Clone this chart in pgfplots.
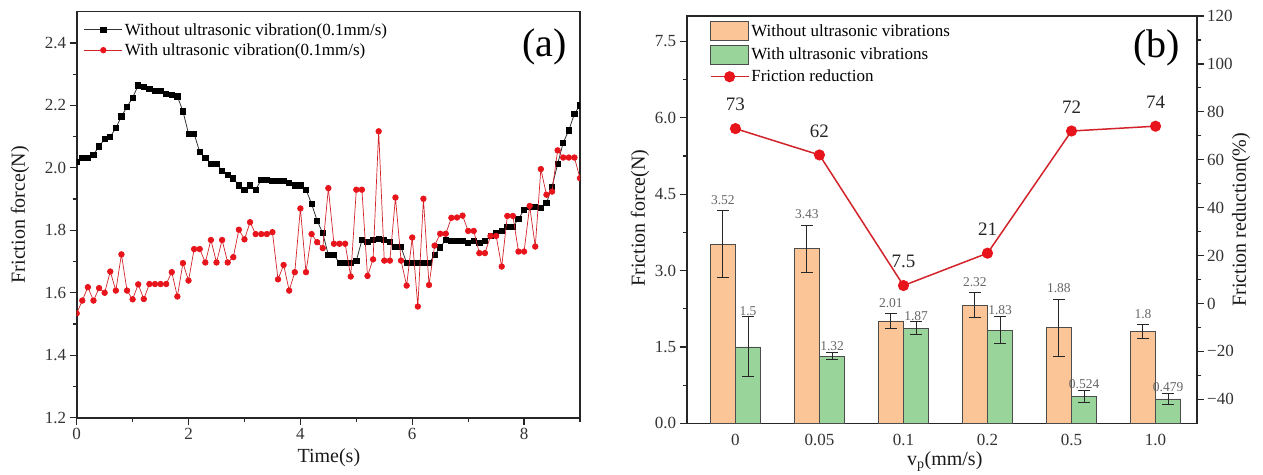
\documentclass[border=0pt]{standalone}
\usepackage{pgfplots}
\pgfplotsset{compat=1.18}
\usepackage{pgfplotstable}
\usepackage{fontspec}
\setmainfont{Liberation Serif}

\definecolor{barorange}{HTML}{FBC597}
\definecolor{bargreen}{HTML}{99D49B}
\definecolor{redline}{HTML}{D2232A}
\definecolor{redmark}{HTML}{E8141C}

% friction force over time at 0.1 mm/s
\pgfplotstableread{
t without with
0.0 2.020 1.534
0.1 2.031 1.575
0.2 2.031 1.618
0.3 2.042 1.575
0.4 2.069 1.615
0.5 2.092 1.600
0.6 2.100 1.668
0.7 2.127 1.607
0.8 2.165 1.723
0.9 2.195 1.607
1.0 2.225 1.579
1.1 2.264 1.627
1.2 2.258 1.580
1.3 2.252 1.628
1.4 2.247 1.628
1.5 2.247 1.628
1.6 2.236 1.628
1.7 2.234 1.666
1.8 2.229 1.588
1.9 2.181 1.695
2.0 2.109 1.639
2.1 2.109 1.740
2.2 2.051 1.740
2.3 2.032 1.697
2.4 2.013 1.769
2.5 2.013 1.697
2.6 1.991 1.769
2.7 1.978 1.697
2.8 1.966 1.714
2.9 1.944 1.802
3.0 1.930 1.771
3.1 1.944 1.826
3.2 1.930 1.788
3.3 1.962 1.788
3.4 1.962 1.788
3.5 1.959 1.794
3.6 1.959 1.643
3.7 1.959 1.689
3.8 1.951 1.607
3.9 1.944 1.666
4.0 1.944 1.870
4.1 1.930 1.666
4.2 1.885 1.788
4.3 1.831 1.762
4.4 1.791 1.743
4.5 1.721 1.935
4.6 1.721 1.757
4.7 1.695 1.757
4.8 1.695 1.757
4.9 1.695 1.652
5.0 1.702 1.930
5.1 1.769 1.930
5.2 1.764 1.654
5.3 1.769 1.707
5.4 1.772 2.117
5.5 1.769 1.703
5.6 1.764 1.703
5.7 1.748 1.905
5.8 1.746 1.703
5.9 1.695 1.623
6.0 1.695 1.777
6.1 1.695 1.556
6.2 1.695 1.901
6.3 1.695 1.625
6.4 1.721 1.751
6.5 1.745 1.789
6.6 1.770 1.789
6.7 1.767 1.840
6.8 1.767 1.841
6.9 1.767 1.847
7.0 1.759 1.798
7.1 1.767 1.798
7.2 1.759 1.727
7.3 1.767 1.727
7.4 1.782 1.782
7.5 1.791 1.782
7.6 1.799 1.684
7.7 1.812 1.846
7.8 1.812 1.846
7.9 1.836 1.732
8.0 1.866 1.732
8.1 1.876 1.878
8.2 1.876 1.748
8.3 1.871 1.996
8.4 1.887 1.914
8.5 1.940 1.924
8.6 2.012 2.056
8.7 2.081 2.033
8.8 2.120 2.033
8.9 2.173 2.033
9.0 2.200 1.967
}\forcetable

% mean friction force, error, and reduction per feed speed
\pgfplotstableread{
x wo woe w we red
0 3.52 0.65 1.5 0.59 73
1 3.43 0.46 1.32 0.075 62
2 2.01 0.14 1.87 0.12 7.5
3 2.32 0.25 1.83 0.27 21
4 1.88 0.56 0.524 0.115 72
5 1.8 0.14 0.479 0.10 74
}\speedtable

\pgfplotsset{
  panel/.style={
    scale only axis,
    anchor=south west,
    axis line style={line width=1.6pt, black!85},
    tick align=outside,
    major tick length=7pt,
    minor tick length=4pt,
    tick style={line width=1.2pt, black!85},
    tick label style={font=\fontsize{17}{20}\selectfont, black!80},
    label style={font=\fontsize{20}{24}\selectfont, black!90},
    /pgf/number format/assume math mode=true,
  },
  lineimg/.style={legend image code/.code={%
    \draw[mark repeat=2,mark phase=2,##1] plot coordinates {(0pt,0pt)(19pt,0pt)(38pt,0pt)};}},
  errbar/.style={error bars/.cd, y dir=both, y explicit,
    error bar style={line width=1pt, black!85},
    error mark options={rotate=90, mark size=6pt, line width=1pt, black!85}},
}

\begin{document}
\begin{tikzpicture}

% (a) friction force versus time
\begin{axis}[panel,
  at={(76.7pt,56.3pt)}, width=503.3pt, height=406pt,
  xmin=0, xmax=9, ymin=1.2, ymax=2.5,
  xtick={0,2,4,6,8}, minor xtick={1,3,5,7,9},
  ytick={1.2,1.4,1.6,1.8,2.0,2.2,2.4},
  minor ytick={1.3,1.5,1.7,1.9,2.1,2.3},
  xtick pos=bottom, ytick pos=left,
  yticklabel style={/pgf/number format/.cd, fixed, fixed zerofill, precision=1},
  xlabel={Time(s)}, ylabel={Friction force(N)},
  xlabel style={at={(axis description cs:0.501,-0.099)}, anchor=center},
  ylabel style={at={(axis description cs:-0.1127,0.5)}, anchor=center},
  clip marker paths=true,
  legend style={at={(axis description cs:0.014,0.977)}, anchor=north west,
    draw=none, fill=none, inner sep=0pt, row sep=3pt,
    font=\fontsize{17}{20}\selectfont, nodes={inner sep=2pt},
    cells={anchor=west}},
]
\addplot[black!80, line width=0.8pt, mark=square*, mark size=2.6pt,
  mark options={black, fill=black}, lineimg]
  table[x=t, y=without]{\forcetable};
\addlegendentry{Without ultrasonic vibration(0.1mm/s)}
\addplot[redline, line width=0.7pt, mark=*, mark size=2.8pt,
  mark options={redmark, fill=redmark}, lineimg]
  table[x=t, y=with]{\forcetable};
\addlegendentry{With ultrasonic vibration(0.1mm/s)}
\node[font=\fontsize{40}{44}\selectfont] at (axis description cs:0.930,0.913) {(a)};
\end{axis}

% (b) friction force bars, left axis
\begin{axis}[panel,
  at={(686.7pt,50.7pt)}, width=510pt, height=407.3pt,
  xmin=-0.58, xmax=5.49, ymin=0, ymax=8,
  xtick={0,1,2,3,4,5}, xticklabels={0,0.05,0.1,0.2,0.5,1.0},
  xtick style={draw=none},
  ytick={0,1.5,3,4.5,6,7.5}, minor ytick={0.75,2.25,3.75,5.25,6.75},
  ytick pos=left,
  yticklabel style={/pgf/number format/.cd, fixed, fixed zerofill, precision=1},
  xlabel={v\textsubscript{p}(mm/s)}, ylabel={Friction force(N)},
  xlabel style={at={(axis description cs:0.506,-0.095)}, anchor=center},
  ylabel style={at={(axis description cs:-0.0916,0.504)}, anchor=center},
]
\addplot[ybar, bar width=0.3, bar shift=0pt, fill=barorange, draw=black!70, line width=0.8pt, errbar]
  table[x expr=\thisrow{x}-0.15, y=wo, y error=woe]{\speedtable};
\addplot[ybar, bar width=0.3, bar shift=0pt, fill=bargreen, draw=black!70, line width=0.8pt, errbar]
  table[x expr=\thisrow{x}+0.15, y=w, y error=we]{\speedtable};
% value labels above the error bars
\addplot[draw=none, mark=none, point meta=explicit symbolic, nodes near coords,
  nodes near coords style={font=\fontsize{13.5}{15}\selectfont, black!60, anchor=south, inner sep=0pt, yshift=6pt}]
  table[x expr=\thisrow{x}-0.15, y expr=\thisrow{wo}+\thisrow{woe}, meta=wo]{\speedtable};
\addplot[draw=none, mark=none, point meta=explicit symbolic, nodes near coords,
  nodes near coords style={font=\fontsize{13.5}{15}\selectfont, black!60, anchor=south, inner sep=0pt, yshift=1.5pt}]
  table[x expr=\thisrow{x}+0.15, y expr=\thisrow{w}+\thisrow{we}, meta=w]{\speedtable};
\end{axis}

% (b) friction reduction, right axis
\begin{axis}[panel,
  at={(686.7pt,50.7pt)}, width=510pt, height=407.3pt,
  xmin=-0.58, xmax=5.49, ymin=-50, ymax=120,
  axis x line=none, axis y line*=right,
  ytick={-40,-20,0,20,40,60,80,100,120},
  minor ytick={-30,-10,10,30,50,70,90,110},
  yticklabels={−40,−20,0,20,40,60,80,100,120},
  ylabel={Friction reduction(\%)},
  ylabel style={at={(axis description cs:1.087,0.5)}, anchor=center},
  legend style={at={(axis description cs:0.045,0.987)}, anchor=north west,
    draw=none, fill=none, inner sep=0pt, row sep=3.5pt,
    font=\fontsize{17}{20}\selectfont, nodes={inner sep=2pt},
    cells={anchor=west}},
]
\addlegendimage{legend image code/.code={\draw[fill=barorange, draw=black!70, line width=0.8pt] (0pt,-9.5pt) rectangle (38pt,9.5pt);}}
\addlegendentry{Without ultrasonic vibrations}
\addlegendimage{legend image code/.code={\draw[fill=bargreen, draw=black!70, line width=0.8pt] (0pt,-9.5pt) rectangle (38pt,9.5pt);}}
\addlegendentry{With ultrasonic vibrations}
\addplot[redline, line width=1.5pt, mark=*, mark size=4.8pt,
  mark options={fill=redmark, draw=redmark}, lineimg,
  nodes near coords, point meta=y,
  nodes near coords style={font=\fontsize{19}{22}\selectfont, black!85, anchor=center, yshift=24pt}]
  table[x=x, y=red]{\speedtable};
\addlegendentry{Friction reduction}
\node[font=\fontsize{40}{44}\selectfont] at (axis description cs:0.922,0.9227) {(b)};
\end{axis}

\pgfresetboundingbox
\useasboundingbox (0pt,0pt) rectangle (1263pt,474pt);
\end{tikzpicture}
\end{document}
